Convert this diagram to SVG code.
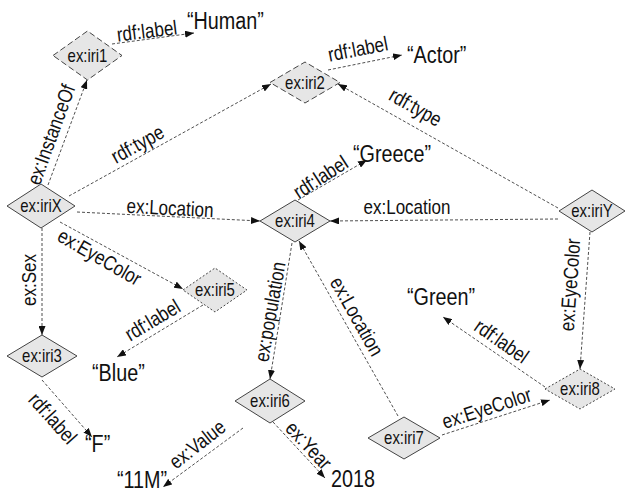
<svg xmlns="http://www.w3.org/2000/svg" width="625" height="492" viewBox="0 0 625 492">
<defs>
<style>
text{font-family:"Liberation Sans",Arial,sans-serif;fill:#111;}
.node polygon{fill:#e6e6e6;stroke:#444;stroke-width:1;}
.node polygon.dash{stroke-dasharray:6,3;}
.node polygon.dot{stroke-dasharray:2,2;}
.node text{font-size:18px;text-anchor:middle;}
.edges path{fill:none;stroke:#222;stroke-width:0.8;stroke-dasharray:3,2;marker-end:url(#arr);}
.el{font-size:20.5px;text-anchor:middle;}
.lit{font-size:23px;}
</style>
<marker id="arr" viewBox="0 0 9 7" refX="9" refY="3.5" markerWidth="9" markerHeight="7" markerUnits="userSpaceOnUse" orient="auto">
<path d="M0,0 L9,3.5 L0,7 z" fill="#111"/>
</marker>
</defs>
<rect width="625" height="492" fill="#fff"/>

<g class="edges">
<path d="M48,185 L87,80"/>
<path d="M112,44 L194,33"/>
<path d="M69,196 L271,84"/>
<path d="M77,212 L260,221"/>
<path d="M298,200 L367,160"/>
<path d="M328,70 L402,55"/>
<path d="M558,208 L338,84"/>
<path d="M558,219 L330,221"/>
<path d="M42,228 L42,335"/>
<path d="M60,222 L183,289"/>
<path d="M203,305 L117,357"/>
<path d="M42,380 L92,437"/>
<path d="M292,243 L270,379"/>
<path d="M398,416 L299,241"/>
<path d="M243,428 L163,487"/>
<path d="M273,422 L325,478"/>
<path d="M442,435 L550,400"/>
<path d="M590,232 L580,369"/>
<path d="M545,387 L443,317"/>
</g>

<g id="edge-labels">
<text class="el" transform="translate(52,135) rotate(-70) scale(0.83,1)" y="6">ex:InstanceOf</text>
<text class="el" transform="translate(147,32) rotate(-7) scale(0.83,1)" y="6">rdf:label</text>
<text class="el" transform="translate(138,145) rotate(-29) scale(0.83,1)" y="6">rdf:type</text>
<text class="el" transform="translate(170,209) rotate(3) scale(0.83,1)" y="6">ex:Location</text>
<text class="el" transform="translate(321,178) rotate(-33) scale(0.83,1)" y="6">rdf:label</text>
<text class="el" transform="translate(358,50) rotate(-11) scale(0.83,1)" y="6">rdf:label</text>
<text class="el" transform="translate(415,108) rotate(29.6) scale(0.83,1)" y="6">rdf:type</text>
<text class="el" transform="translate(407,208) scale(0.83,1)" y="6">ex:Location</text>
<text class="el" transform="translate(30,280) rotate(-90) scale(0.83,1)" y="6">ex:Sex</text>
<text class="el" transform="translate(99,258) rotate(30) scale(0.83,1)" y="6">ex:EyeColor</text>
<text class="el" transform="translate(153,321) rotate(-31) scale(0.83,1)" y="6">rdf:label</text>
<text class="el" transform="translate(52,419) rotate(48) scale(0.83,1)" y="6">rdf:label</text>
<text class="el" transform="translate(271,312) rotate(-80) scale(0.83,1)" y="6">ex:population</text>
<text class="el" transform="translate(356,317) rotate(60.5) scale(0.83,1)" y="6">ex:Location</text>
<text class="el" transform="translate(198,445) rotate(-38) scale(0.83,1)" y="6">ex:Value</text>
<text class="el" transform="translate(308,446) rotate(47) scale(0.83,1)" y="6">ex:Year</text>
<text class="el" transform="translate(487,409) rotate(-18) scale(0.83,1)" y="6">ex:EyeColor</text>
<text class="el" transform="translate(571,285) rotate(-86) scale(0.83,1)" y="6">ex:EyeColor</text>
<text class="el" transform="translate(501,342) rotate(35) scale(0.83,1)" y="6">rdf:label</text>
</g>

<g id="literals">
<text class="lit" transform="translate(187,29) scale(0.86,1)">“Human”</text>
<text class="lit" transform="translate(407,63) scale(0.86,1)">“Actor”</text>
<text class="lit" transform="translate(353,162) scale(0.86,1)">“Greece”</text>
<text class="lit" transform="translate(92,381) scale(0.86,1)">“Blue”</text>
<text class="lit" transform="translate(85,452) scale(0.86,1)">“F”</text>
<text class="lit" transform="translate(117,488) scale(0.86,1)">“11M”</text>
<text class="lit" transform="translate(331,487) scale(0.86,1)">2018</text>
<text class="lit" transform="translate(407,305) scale(0.86,1)">“Green”</text>
</g>

<g id="iri1" class="node"><polygon class="dash" points="53,55.5 87.5,31 122,55.5 87.5,80"/><text transform="translate(87.5,62) scale(0.83,1)">ex:iri1</text></g>
<g id="iri2" class="node"><polygon class="dash" points="270,82.5 305,62 340,82.5 305,103"/><text transform="translate(305,89) scale(0.83,1)">ex:iri2</text></g>
<g id="iriX" class="node"><polygon points="7,206 41,184 75,206 41,228"/><text transform="translate(41,212) scale(0.83,1)">ex:iriX</text></g>
<g id="iri4" class="node"><polygon points="260,221 295,200 330,221 295,242"/><text transform="translate(295,227) scale(0.83,1)">ex:iri4</text></g>
<g id="iriY" class="node"><polygon points="559,211 592,190 625,211 592,232"/><text transform="translate(592,217) scale(0.83,1)">ex:iriY</text></g>
<g id="iri5" class="node"><polygon class="dot" points="183,290 215,268 247,290 215,312"/><text transform="translate(215,296) scale(0.83,1)">ex:iri5</text></g>
<g id="iri3" class="node"><polygon points="7,356 42,335 77,356 42,377"/><text transform="translate(42,362) scale(0.83,1)">ex:iri3</text></g>
<g id="iri6" class="node"><polygon points="235,401 270,379 305,401 270,423"/><text transform="translate(270,407) scale(0.83,1)">ex:iri6</text></g>
<g id="iri7" class="node"><polygon points="368,438 404,417 440,438 404,459"/><text transform="translate(404,444) scale(0.83,1)">ex:iri7</text></g>
<g id="iri8" class="node"><polygon class="dot" points="545,389 580,369 615,389 580,409"/><text transform="translate(580,395) scale(0.83,1)">ex:iri8</text></g>
</svg>
